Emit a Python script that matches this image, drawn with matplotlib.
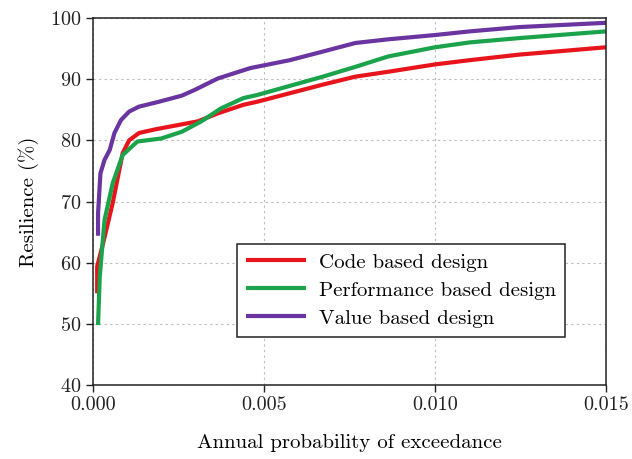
import matplotlib
matplotlib.use("Agg")
import matplotlib.pyplot as plt

plt.rcParams['font.family'] = ['cmr10', 'DejaVu Serif']
plt.rcParams['axes.formatter.use_mathtext'] = True
plt.rcParams['mathtext.fontset'] = 'cm'

code_x = [0.000125, 0.000125, 0.0003, 0.00058, 0.00087, 0.00106, 0.00135, 0.00183, 0.0025, 0.00307,
          0.00365, 0.0044, 0.0048, 0.00576, 0.00672, 0.00767, 0.00863, 0.0100, 0.01102, 0.01246, 0.0150]
code_y = [55.0, 59.4, 63.2, 69.8, 77.9, 80.0, 81.2, 81.8, 82.5, 83.1,
          84.4, 85.8, 86.3, 87.7, 89.1, 90.4, 91.2, 92.4, 93.1, 94.0, 95.2]

perf_x = [0.00015, 0.0002, 0.00034, 0.00058, 0.00087, 0.0013, 0.0020, 0.0026, 0.00317, 0.00374,
          0.0044, 0.0048, 0.00576, 0.00672, 0.00767, 0.00863, 0.0100, 0.01102, 0.01246, 0.0150]
perf_y = [49.8, 57.7, 67.0, 73.0, 77.6, 79.8, 80.3, 81.4, 83.1, 85.2,
          86.9, 87.4, 88.9, 90.4, 92.0, 93.7, 95.2, 96.0, 96.7, 97.8]

value_x = [0.00015, 0.00015, 0.00022, 0.00034, 0.00049, 0.00063, 0.00082, 0.00106, 0.00135, 0.00193,
           0.0026, 0.0030, 0.00365, 0.0046, 0.00576, 0.00672, 0.00767, 0.00863, 0.0100, 0.01102,
           0.01246, 0.0150]
value_y = [64.4, 68.0, 74.6, 76.8, 78.4, 81.2, 83.3, 84.7, 85.5, 86.3,
           87.3, 88.3, 90.1, 91.8, 93.1, 94.5, 95.9, 96.5, 97.2, 97.8,
           98.5, 99.2]

series = [
    ("Code based design", code_x, code_y, "#e8141c"),
    ("Performance based design", perf_x, perf_y, "#1ba34b"),
    ("Value based design", value_x, value_y, "#6a35a0"),
]

x_ticks = [0.000, 0.005, 0.010, 0.015]
x_ticklabels = ["0.000", "0.005", "0.010", "0.015"]
y_ticks = [40, 50, 60, 70, 80, 90, 100]

fig = plt.figure(figsize=(6.32, 4.59), dpi=100)
ax = fig.add_axes([0.147, 0.161, 0.812, 0.800])

for label, xs, ys, color in series:
    ax.plot(xs, ys, color=color, lw=3.0, label=label, solid_capstyle='butt')

ax.set_xlim(0, 0.015)
ax.set_ylim(40, 100)
ax.set_xticks(x_ticks)
ax.set_xticklabels(x_ticklabels)
ax.set_yticks(y_ticks)
ax.tick_params(direction='out', length=5, width=1, labelsize=14.5, colors='#222222', pad=3)
for s in ax.spines.values():
    s.set_linewidth(1.1)
    s.set_color('#222222')
ax.grid(True, linestyle=(0, (2, 3)), color='#bbbbbb', lw=0.8)

ax.set_xlabel("Annual probability of exceedance", fontsize=15, labelpad=14)
ax.set_ylabel("Resilience (%)", fontsize=15, labelpad=8)

leg = ax.legend(loc='lower left', bbox_to_anchor=(0.28, 0.131), borderaxespad=0,
                fontsize=15, fancybox=False, framealpha=1, edgecolor='#222222',
                handlelength=2.9, handletextpad=0.6, labelspacing=0.45, borderpad=0.45)
leg.get_frame().set_linewidth(1.1)

fig.savefig("out.png", dpi=100)
